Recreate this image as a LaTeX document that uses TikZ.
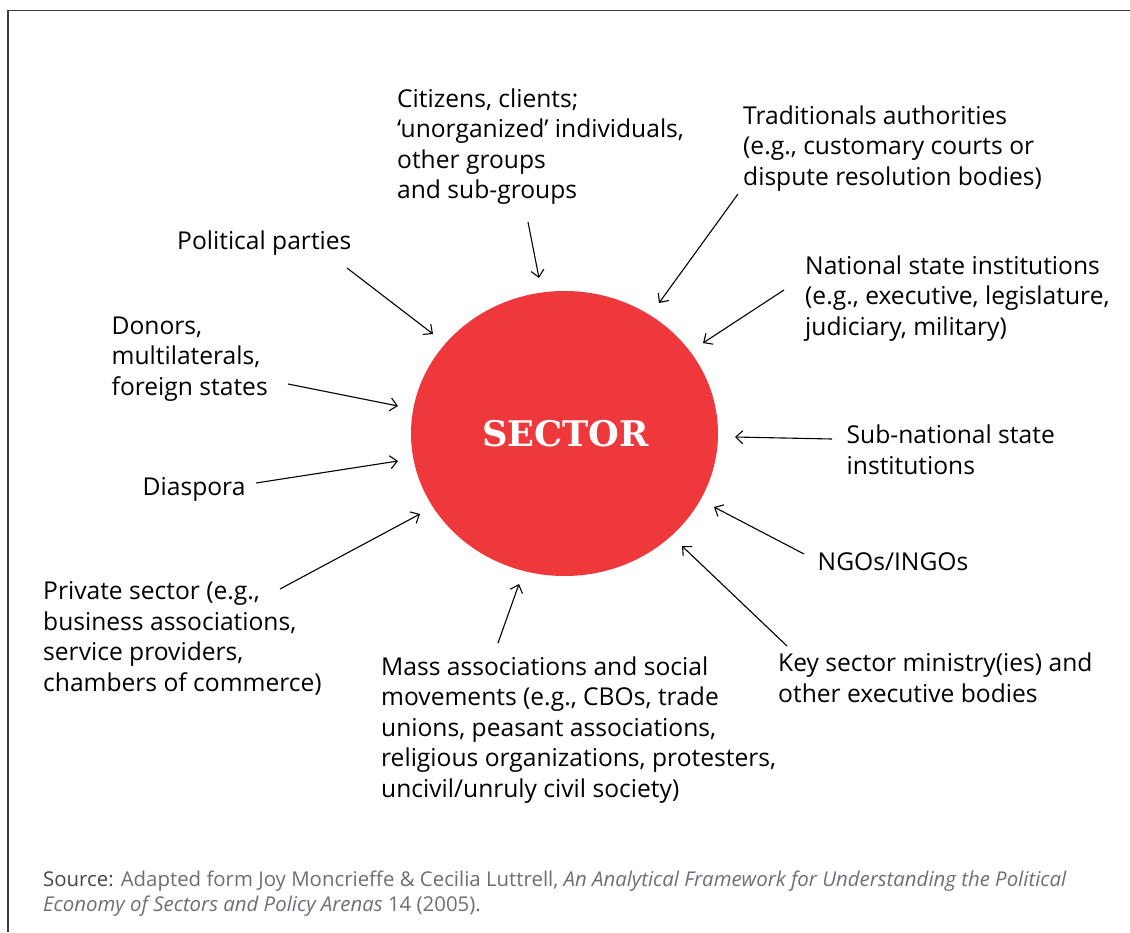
\documentclass[tikz,border=0pt]{standalone}
\usepackage{fontspec}
\setmainfont{Open Sans}
\newfontfamily\slabfont{DejaVu Serif}
\usetikzlibrary{arrows.meta,shapes.geometric}
\definecolor{sectorred}{RGB}{239,56,59}
\definecolor{srcgray}{RGB}{110,111,114}
\definecolor{srcdark}{RGB}{70,71,74}
\definecolor{framegray}{RGB}{60,60,60}
\begin{document}
\begin{tikzpicture}[x=1pt,y=-1pt,
  lbl/.style={anchor=base west,inner sep=0pt,align=left,text=black,
    font={\fontsize{24.6}{30.4}\selectfont}},
  src/.style={anchor=base west,inner sep=0pt,align=left,text=srcgray,
    font={\fontsize{20.4}{24.3}\selectfont}},
  link/.style={draw=black,line width=1.1pt,-{Straight Barb[length=7pt,width=13pt,line width=1.1pt]}}
]
\useasboundingbox (0,0) rectangle (1130,932);
\draw[framegray,line width=1.4pt] (1130,10.5) -- (8,10.5) -- (8,932);

\node[ellipse,fill=sectorred,minimum width=307pt,minimum height=285pt,inner sep=0pt] (sector) at (564.5,433.5) {};
\node[anchor=base,inner sep=0pt,text=white,font={\slabfont\bfseries\fontsize{35.3}{40}\selectfont}] (sectorlbl) at (565.5,446.5) {SECTOR};

% anchors are at the baseline of the LAST line
\node[lbl] (citizens) at (397,198.5) {Citizens, clients;\\ `unorganized' individuals,\\ other groups\\ and sub-groups};
\node[lbl] (trad) at (743,185) {Traditionals authorities\\ (e.g., customary courts or\\ dispute resolution bodies)};
\node[lbl] (polit) at (177,249) {Political parties};
\node[lbl] (national) at (805,335) {National state institutions\\ (e.g., executive, legislature,\\ judiciary, military)};
\node[lbl] (donors) at (111.5,395) {Donors,\\ multilaterals,\\ foreign states};
\node[lbl] (subnat) at (846.5,474) {Sub-national state\\ institutions};
\node[lbl] (diaspora) at (142.5,495) {Diaspora};
\node[lbl] (ngos) at (817.5,570.5) {NGOs/INGOs};
\node[lbl] (private) at (43,691) {Private sector (e.g.,\\ business associations,\\ service providers,\\ chambers of commerce)};
\node[lbl] (keysec) at (778,702) {Key sector ministry(ies) and\\ other executive bodies};
\node[lbl] (mass) at (381,797) {Mass associations and social\\ movements (e.g., CBOs, trade\\ unions, peasant associations,\\ religious organizations, protesters,\\ uncivil/unruly civil society)};

\node[src] (source) at (43,911) {\textcolor{srcdark}{Source:} Adapted form Joy Moncrieffe \& Cecilia Luttrell, \textit{An Analytical Framework for Understanding the Political}\\ \textit{Economy of Sectors and Policy Arenas} 14 (2005).};

% connector end points
\coordinate (c1s) at (528,222);  \coordinate (c1e) at (539,278);
\coordinate (c2s) at (738,194);  \coordinate (c2e) at (659,303);
\coordinate (c3s) at (347,268);  \coordinate (c3e) at (433,334);
\coordinate (c4s) at (784,290);  \coordinate (c4e) at (703,343);
\coordinate (c5s) at (288,384);  \coordinate (c5e) at (398,406);
\coordinate (c6s) at (832,439);  \coordinate (c6e) at (735,437);
\coordinate (c7s) at (256,483);  \coordinate (c7e) at (398,461);
\coordinate (c8s) at (804,554);  \coordinate (c8e) at (714,507);
\coordinate (c9s) at (280,589);  \coordinate (c9e) at (420,514);
\coordinate (c10s) at (787,646); \coordinate (c10e) at (682,546);
\coordinate (c11s) at (498,643); \coordinate (c11e) at (519,584);

\draw[link] (c1s) -- (c1e);
\draw[link] (c2s) -- (c2e);
\draw[link] (c3s) -- (c3e);
\draw[link] (c4s) -- (c4e);
\draw[link] (c5s) -- (c5e);
\draw[link] (c6s) -- (c6e);
\draw[link] (c7s) -- (c7e);
\draw[link] (c8s) -- (c8e);
\draw[link] (c9s) -- (c9e);
\draw[link] (c10s) -- (c10e);
\draw[link] (c11s) -- (c11e);
\end{tikzpicture}
\end{document}
